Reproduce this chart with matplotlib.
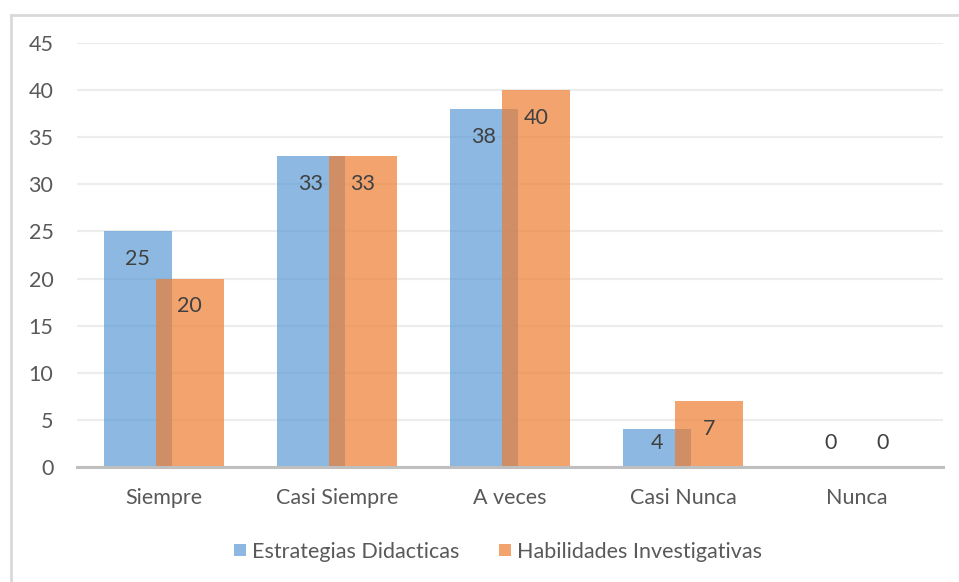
import matplotlib
matplotlib.use("Agg")
import matplotlib.pyplot as plt
import numpy as np
from matplotlib.lines import Line2D

categories = ["Siempre", "Casi Siempre", "A veces", "Casi Nunca", "Nunca"]
series_names = ["Estrategias Didacticas", "Habilidades Investigativas"]
estrategias = [25, 33, 38, 4, 0]
habilidades = [20, 33, 40, 7, 0]
yticks = [0, 5, 10, 15, 20, 25, 30, 35, 40, 45]

plt.rcParams['font.family'] = ['Lato', 'DejaVu Sans']

W, H = 959, 582
fig = plt.figure(figsize=(W / 100, H / 100), dpi=100)
ax = fig.add_axes([77 / W, 1 - 467 / H, (943 - 77) / W, (467 - 43) / H])

x = np.arange(len(categories))
bw = 0.393
off = 0.15
blue = "#5B9BD5"
orange = "#ED7D31"
ax.bar(x - off, estrategias, width=bw, color=blue, alpha=0.7, zorder=3, linewidth=0)
ax.bar(x + off, habilidades, width=bw, color=orange, alpha=0.7, zorder=4, linewidth=0)

ax.set_xlim(-0.5, len(categories) - 0.5)
ax.set_ylim(0, 45)
ax.set_yticks(yticks)
ax.set_xticks(x)
ax.set_xticklabels(categories)
ax.tick_params(axis='both', length=0, labelsize=15.5, colors="#595959")
ax.tick_params(axis='y', pad=17)
ax.tick_params(axis='x', pad=15)
for s in ['top', 'right', 'left']:
    ax.spines[s].set_visible(False)
ax.spines['bottom'].set_color("#BFBFBF")
ax.spines['bottom'].set_linewidth(2.2)
ax.spines['bottom'].set_zorder(6)
ax.yaxis.grid(True, color="#EDEDED", linewidth=1.6, zorder=0)
ax.set_axisbelow(True)

for xs, vals in ((x - off, estrategias), (x + off, habilidades)):
    for xi, v in zip(xs, vals):
        ax.text(xi, max(v - 2.95, 2.5), str(v), ha='center', va='center',
                fontsize=15.5, color="#404040", zorder=7)

handles = [Line2D([], [], marker='s', linestyle='none', markersize=9,
                  markerfacecolor=blue, markeredgewidth=0, alpha=0.7),
           Line2D([], [], marker='s', linestyle='none', markersize=9,
                  markerfacecolor=orange, markeredgewidth=0, alpha=0.7)]
fig.legend(handles, series_names, loc='center', bbox_to_anchor=(496 / W, 1 - 552 / H),
           ncol=2, frameon=False, fontsize=15.5, labelcolor="#595959",
           handletextpad=0.1, columnspacing=1.7, handlelength=0.9)

# chart border (top and left)
fig.add_artist(Line2D([10.5 / W, 1.0], [1 - 14.5 / H, 1 - 14.5 / H], color="#D9D9D9", linewidth=2,
                      transform=fig.transFigure))
fig.add_artist(Line2D([11 / W, 11 / W], [0, 1 - 14.5 / H], color="#D9D9D9", linewidth=2,
                      transform=fig.transFigure))

fig.savefig("out.png", dpi=100)
